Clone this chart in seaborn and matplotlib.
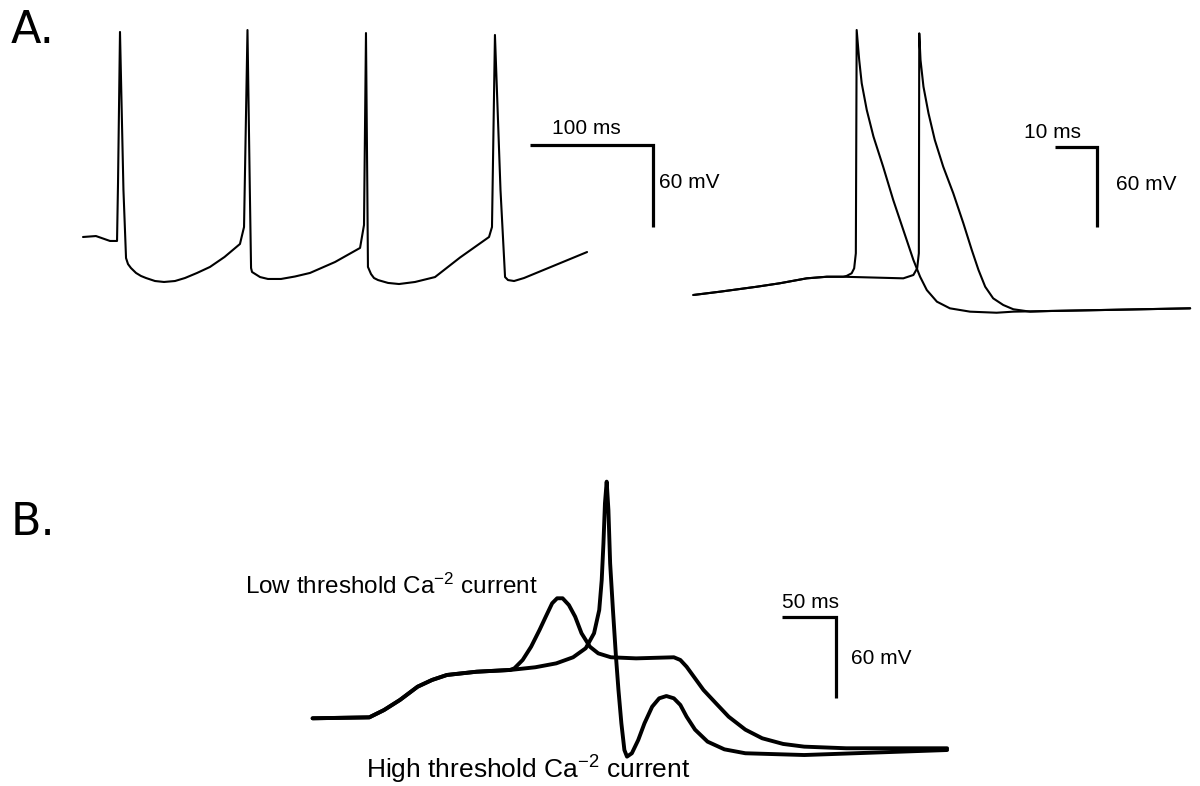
import matplotlib
matplotlib.use("Agg")
import matplotlib.pyplot as plt
import seaborn as sns

sns.set_style("white")
plt.rcParams['font.family'] = ['Liberation Sans', 'DejaVu Sans']
plt.rcParams['mathtext.default'] = 'regular'
plt.rcParams['text.color'] = 'black'

# ---------------- data (time in ms, membrane potential in mV) ----------------
# Panel A, left: repetitive firing
a1_t = [0.0, 10.5, 21.9, 27.6, 28.4, 30.0, 32.8, 34.9, 36.5, 38.9, 43.0, 47.0, 51.1, 58.4,
        65.7, 74.6, 82.7, 92.5, 103.0, 114.8,
        127.3, 130.6, 133.4, 135.3, 136.3, 137.1, 143.6, 150.0, 160.6, 171.9, 184.1, 204.4,
        224.7, 227.9, 229.5, 230.6, 231.1, 233.6, 236.0, 239.3, 247.4, 256.3, 269.3, 285.5, 305.8,
        329.3, 331.7, 334.1, 338.6, 342.3, 344.7, 349.6, 357.7, 408.8]
a1_v = [-60.0, -59.3, -62.9, -62.9, -20.5, 90.0, -25.6, -75.4, -79.8, -82.7, -86.3, -88.5, -90.0, -92.2,
        -92.9, -92.2, -90.0, -86.3, -81.9, -74.6,
        -65.1, -52.7, 91.4, -25.6, -82.7, -85.6, -89.3, -90.7, -90.7, -88.9, -86.3, -78.3,
        -68.0, -51.2, 89.2, -25.6, -81.9, -87.1, -90.0, -91.5, -93.6, -94.4, -92.9, -89.3, -75.0,
        -60.0, -52.7, 87.8, -25.6, -89.3, -91.5, -92.2, -90.0, -71.0]

# Panel A, right: two single spikes (shared start and tail)
a2_start_t = [0.0, 6.4, 15.1, 20.6, 27.0, 31.8, 35.7]
a2_start_v = [-65.0, -62.5, -58.8, -56.2, -52.5, -51.3, -51.3]
a2_s1_t = [36.5, 37.7, 38.3, 38.7, 38.9, 39.5, 40.1, 41.3, 42.9, 45.2, 47.6, 50.0, 52.4,
           54.0, 55.6, 58.0, 61.1, 65.9, 72.2, 76.2]
a2_s1_v = [-50.7, -48.7, -45.0, -33.7, 133.8, 111.3, 93.8, 73.8, 53.8, 31.3, 6.3, -16.2, -38.7,
           -51.3, -61.3, -70.0, -75.0, -77.5, -78.3, -77.5]
a2_s2_t = [50.0, 52.4, 53.3, 53.7, 53.8, 54.1, 54.8, 56.0, 57.5, 59.5, 61.9, 64.3, 66.3,
           67.9, 69.5, 71.4, 73.8, 76.2, 80.2]
a2_s2_v = [-52.5, -50.0, -45.0, -33.7, 131.3, 111.3, 91.3, 71.3, 51.3, 31.3, 11.3, -11.2, -31.2,
           -46.2, -58.8, -67.5, -72.5, -75.7, -77.5]
a2_tail_t = [84.9, 96.8, 118.3]
a2_tail_v = [-77.0, -76.3, -75.0]

# Panel B: low- vs high-threshold Ca current
b_start_t = [0.0, 52.5, 66.1, 80.9, 97.2, 110.6, 124.4, 151.8, 182.8]
b_start_v = [-70.0, -69.3, -63.9, -56.4, -46.6, -41.6, -37.9, -35.5, -34.2]
b_low_t = [186.8, 194.5, 202.3, 210.1, 215.9, 221.8, 226.4, 231.5, 237.3, 243.1, 249.0, 256.8,
           264.5, 276.2, 299.5, 334.5, 340.5, 346.3, 354.1, 361.9, 373.5, 385.2, 400.7, 416.3,
           435.7, 455.2, 494.1, 587.5]
b_low_v = [-33.0, -26.8, -17.0, -4.6, 5.3, 15.2, 18.9, 18.9, 13.9, 5.3, -7.0, -17.0,
           -21.9, -24.8, -25.6, -24.8, -26.8, -31.8, -40.4, -49.0, -58.9, -68.8, -78.4, -84.8,
           -89.0, -91.0, -92.2, -92.2]
b_high_t = [206.2, 225.6, 241.2, 252.9, 260.6, 265.4, 267.7, 269.3, 270.7, 272.3, 273.9, 275.5,
            278.1, 280.9, 283.2, 285.9, 288.7, 291.1, 295.6, 301.5, 307.3, 314.4, 320.9, 327.6,
            334.5, 340.5, 346.3, 354.1, 365.7, 381.3, 400.7, 455.2, 587.5]
b_high_v = [-32.2, -29.3, -24.8, -18.1, -7.0, 10.2, 32.4, 59.6, 89.3, 105.3, 84.3, 44.8,
            10.2, -24.4, -49.0, -73.7, -93.5, -98.4, -95.9, -86.1, -73.7, -61.4, -55.2, -53.5,
            -55.2, -60.1, -68.8, -78.4, -87.3, -93.0, -95.9, -97.2, -93.5]

scale_ms = [100, 10, 50]
scale_mv = [60, 60, 60]
scale_time_labels = ["100 ms", "10 ms", "50 ms"]
scale_volt_labels = ["60 mV", "60 mV", "60 mV"]
panel_labels = ["A.", "B."]
low_label = "Low threshold Ca$^{-2}$ current"
high_label = "High threshold Ca$^{-2}$ current"

# ---------------- layout ----------------
W, H = 1200, 786
fig = plt.figure(figsize=(12, 7.86), dpi=100)
fig.patch.set_facecolor("white")


def panel(box, t0_px, px_per_ms, v_py, v_ref, px_per_mv):
    x0, y0, x1, y1 = box
    ax = fig.add_axes([x0 / W, 1 - y1 / H, (x1 - x0) / W, (y1 - y0) / H])
    ax.set_xlim((x0 - t0_px) / px_per_ms, (x1 - t0_px) / px_per_ms)
    ax.set_ylim(v_ref - (y1 - v_py) / px_per_mv, v_ref + (v_py - y0) / px_per_mv)
    ax.set_axis_off()
    return ax


def trace(ax, t, v, lw):
    sns.lineplot(x=t, y=v, sort=False, estimator=None, color="black", linewidth=lw,
                 ax=ax, solid_joinstyle="round", solid_capstyle="round")
    for ln in ax.get_lines():
        ln.set_clip_on(False)


def scalebar(ax, corner_t, corner_v, ms, mv, lw=2.3):
    ax.plot([corner_t - ms, corner_t, corner_t], [corner_v, corner_v, corner_v - mv],
            color="black", lw=lw, solid_joinstyle="miter", solid_capstyle="butt",
            clip_on=False)


def ftext(x, y, s, **kw):
    fig.text(x / W, 1 - y / H, s, color="black", **kw)


ax_a1 = panel((60, 0, 720, 330), 83, 1.233, 237, -60, 1.367)
ax_a2 = panel((680, 0, 1200, 330), 693.3, 4.2, 295, -65, 1.333)
ax_b = panel((300, 460, 960, 786), 312.6, 1.08, 718.3, -70, 1.35)

trace(ax_a1, a1_t, a1_v, 1.5)
trace(ax_a2, a2_start_t + a2_s1_t + a2_tail_t, a2_start_v + a2_s1_v + a2_tail_v, 1.5)
trace(ax_a2, a2_start_t + a2_s2_t + a2_tail_t, a2_start_v + a2_s2_v + a2_tail_v, 1.5)
trace(ax_b, b_start_t + b_low_t, b_start_v + b_low_v, 2.8)
trace(ax_b, b_start_t + b_high_t, b_start_v + b_high_v, 2.8)

scalebar(ax_a1, 462.5, 7.3, scale_ms[0], scale_mv[0])
scalebar(ax_a2, 96.1, 46.0, scale_ms[1], scale_mv[1])
scalebar(ax_b, 484.6, 5.0, scale_ms[2], scale_mv[2])

fs = 15
ftext(586, 128, scale_time_labels[0], ha="center", va="center", fontsize=fs)
ftext(659, 183, scale_volt_labels[0], ha="left", va="center", fontsize=fs)
ftext(1053, 133, scale_time_labels[1], ha="center", va="center", fontsize=fs)
ftext(1116, 184, scale_volt_labels[1], ha="left", va="center", fontsize=fs)
ftext(810, 603, scale_time_labels[2], ha="center", va="center", fontsize=fs)
ftext(851, 659, scale_volt_labels[2], ha="left", va="center", fontsize=fs)

ftext(245, 594, low_label, ha="left", va="baseline", fontsize=17.5)
ftext(366, 779, high_label, ha="left", va="baseline", fontsize=19)

ftext(11, 43, panel_labels[0], ha="left", va="baseline", fontsize=32,
      family=["DejaVu Sans"])
ftext(11, 535, panel_labels[1], ha="left", va="baseline", fontsize=32,
      family=["DejaVu Sans"])

fig.savefig("out.png", dpi=100, facecolor="white")
